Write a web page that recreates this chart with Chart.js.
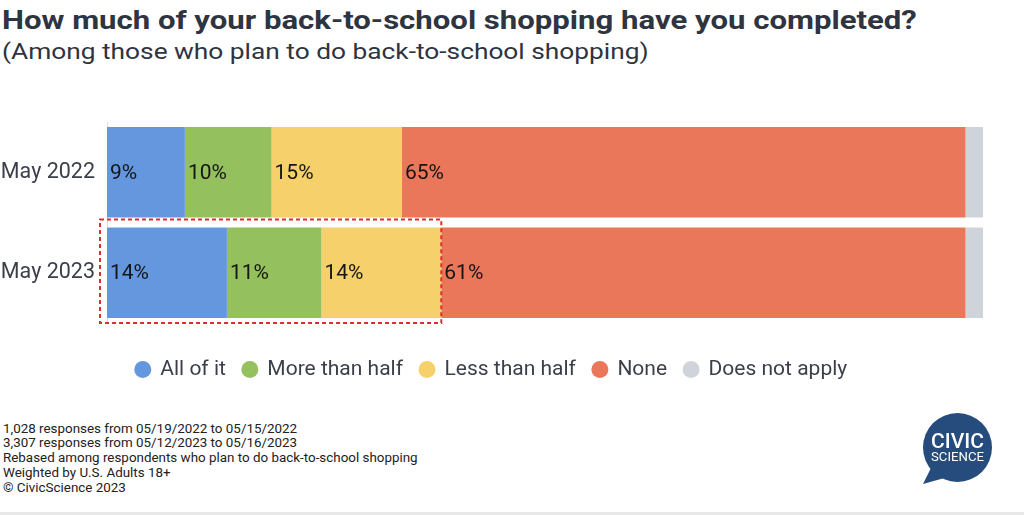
<!DOCTYPE html>
<html>
<head>
<meta charset="utf-8">
<script src="https://cdn.jsdelivr.net/npm/chart.js@4"></script>
<style>
  html, body { margin: 0; padding: 0; background: #fff; }
  body { width: 1024px; height: 515px; position: relative; overflow: hidden; font-family: Roboto, "Noto Sans", sans-serif; }
  #title { position: absolute; left: 2px; top: 5px; font-size: 26px; font-weight: 700; color: #2e3440; white-space: nowrap; transform: scaleX(1.197); transform-origin: 0 0; }
  #subtitle { position: absolute; left: 2px; top: 39px; font-size: 22px; color: #2e3440; white-space: nowrap; transform: scaleX(1.195); transform-origin: 0 0; }
  #wrap { position: absolute; left: 0; top: 100px; width: 983px; height: 290px; }
  #notes { position: absolute; left: 3px; top: 421.5px; font-size: 13.4px; line-height: 14.75px; color: #222; }
  #logo { position: absolute; left: 0; top: 0; }
  #rule { position: absolute; left: 0; top: 512px; width: 1024px; height: 3px; background: #e8e8e8; }
</style>
</head>
<body>
<div id="title">How much of your back-to-school shopping have you completed?</div>
<div id="subtitle">(Among those who plan to do back-to-school shopping)</div>
<div id="wrap"><canvas id="shoppingChart"></canvas></div>
<div id="notes">
  1,028 responses from 05/19/2022 to 05/15/2022<br>
  3,307 responses from 05/12/2023 to 05/16/2023<br>
  Rebased among respondents who plan to do back-to-school shopping<br>
  Weighted by U.S. Adults 18+<br>
  &copy; CivicScience 2023
</div>
<svg id="logo" width="1024" height="515">
  <polygon points="931,468 923,484 948,477" fill="#264b7d"/>
  <circle cx="957.5" cy="447.5" r="34.5" fill="#264b7d"/>
  <text x="957.5" y="448" text-anchor="middle" fill="#fff" font-family="Roboto" font-weight="500" font-size="20" textLength="53" lengthAdjust="spacingAndGlyphs">CIVIC</text>
  <text x="957.5" y="461" text-anchor="middle" fill="#fff" font-family="Roboto" font-size="13" textLength="53" lengthAdjust="spacingAndGlyphs">SCIENCE</text>
</svg>
<div id="rule"></div>
<script>
const categories = ['May 2022', 'May 2023'];
const seriesNames = ['All of it', 'More than half', 'Less than half', 'None', 'Does not apply'];

// bar widths as drawn (share of respondents, %)
const allOfIt = [8.9, 13.7];
const moreThanHalf = [9.9, 10.8];
const lessThanHalf = [14.9, 13.7];
const none = [64.4, 59.9];
const doesNotApply = [2.0, 2.0];

// values printed on the bars
const allOfItShown = [9, 14];
const moreThanHalfShown = [10, 11];
const lessThanHalfShown = [15, 14];
const noneShown = [65, 61];

const seriesColors = ['#6597df', '#95c05e', '#f6d06a', '#ea7759', '#cfd4db'];
const seriesValues = [allOfIt, moreThanHalf, lessThanHalf, none, doesNotApply];
const shownValues = [allOfItShown, moreThanHalfShown, lessThanHalfShown, noneShown, null];

const barLabels = {
    id: 'barLabels',
    afterDatasetsDraw(chart) {
        const ctx = chart.ctx;
        ctx.save();
        ctx.font = '21px Roboto';
        ctx.fillStyle = '#151515';
        ctx.textBaseline = 'middle';
        ctx.textAlign = 'left';
        chart.data.datasets.forEach((ds, i) => {
            const shown = shownValues[i];
            if (!shown) return;
            chart.getDatasetMeta(i).data.forEach((bar, j) => {
                ctx.fillText(shown[j] + '%', bar.base + 3, bar.y + 1);
            });
        });
        ctx.restore();
    }
};

// dashed box round the first three segments of May 2023
const highlightBox = {
    id: 'highlightBox',
    afterDatasetsDraw(chart) {
        const bar = chart.getDatasetMeta(2).data[1];
        const ctx = chart.ctx;
        const top = bar.y - bar.height / 2 - 8;
        const bottom = bar.y + bar.height / 2 + 5;
        ctx.save();
        ctx.strokeStyle = '#d8312d';
        ctx.lineWidth = 2;
        ctx.setLineDash([4, 3]);
        ctx.strokeRect(chart.chartArea.left - 7, top, bar.x - chart.chartArea.left + 7, bottom - top);
        ctx.restore();
    }
};

const ctx = document.getElementById('shoppingChart').getContext('2d');
new Chart(ctx, {
    type: 'bar',
    data: {
        labels: categories,
        datasets: seriesNames.map((name, i) => ({
            label: name,
            data: seriesValues[i],
            backgroundColor: seriesColors[i],
            borderWidth: 0,
            barPercentage: 0.9,
            categoryPercentage: 1.0
        }))
    },
    options: {
        indexAxis: 'y',
        responsive: true,
        maintainAspectRatio: false,
        animation: false,
        layout: { padding: { top: 22, left: 0, right: 0, bottom: 0 } },
        scales: {
            x: {
                stacked: true,
                min: 0,
                max: 100.1,
                grid: { display: false, drawTicks: false },
                border: { display: false },
                ticks: { display: false },
                afterFit(axis) { axis.height = 19; }
            },
            y: {
                stacked: true,
                grid: { display: false, drawTicks: false },
                border: { display: true, color: '#dddddd', width: 1 },
                ticks: {
                    color: '#3a3f4a',
                    font: { family: 'Roboto', size: 21.5 },
                    padding: 12
                },
                afterFit(axis) {
                    axis.width = 107;
                    axis.paddingTop = 0;
                    axis.paddingBottom = 0;
                }
            }
        },
        plugins: {
            legend: {
                position: 'bottom',
                labels: {
                    usePointStyle: true,
                    pointStyle: 'circle',
                    boxWidth: 14,
                    boxHeight: 12,
                    padding: 17,
                    color: '#3a3f4a',
                    font: { family: 'Roboto', size: 21 }
                }
            },
            tooltip: { enabled: false },
            title: { display: false }
        }
    },
    plugins: [barLabels, highlightBox]
});
</script>
</body>
</html>
